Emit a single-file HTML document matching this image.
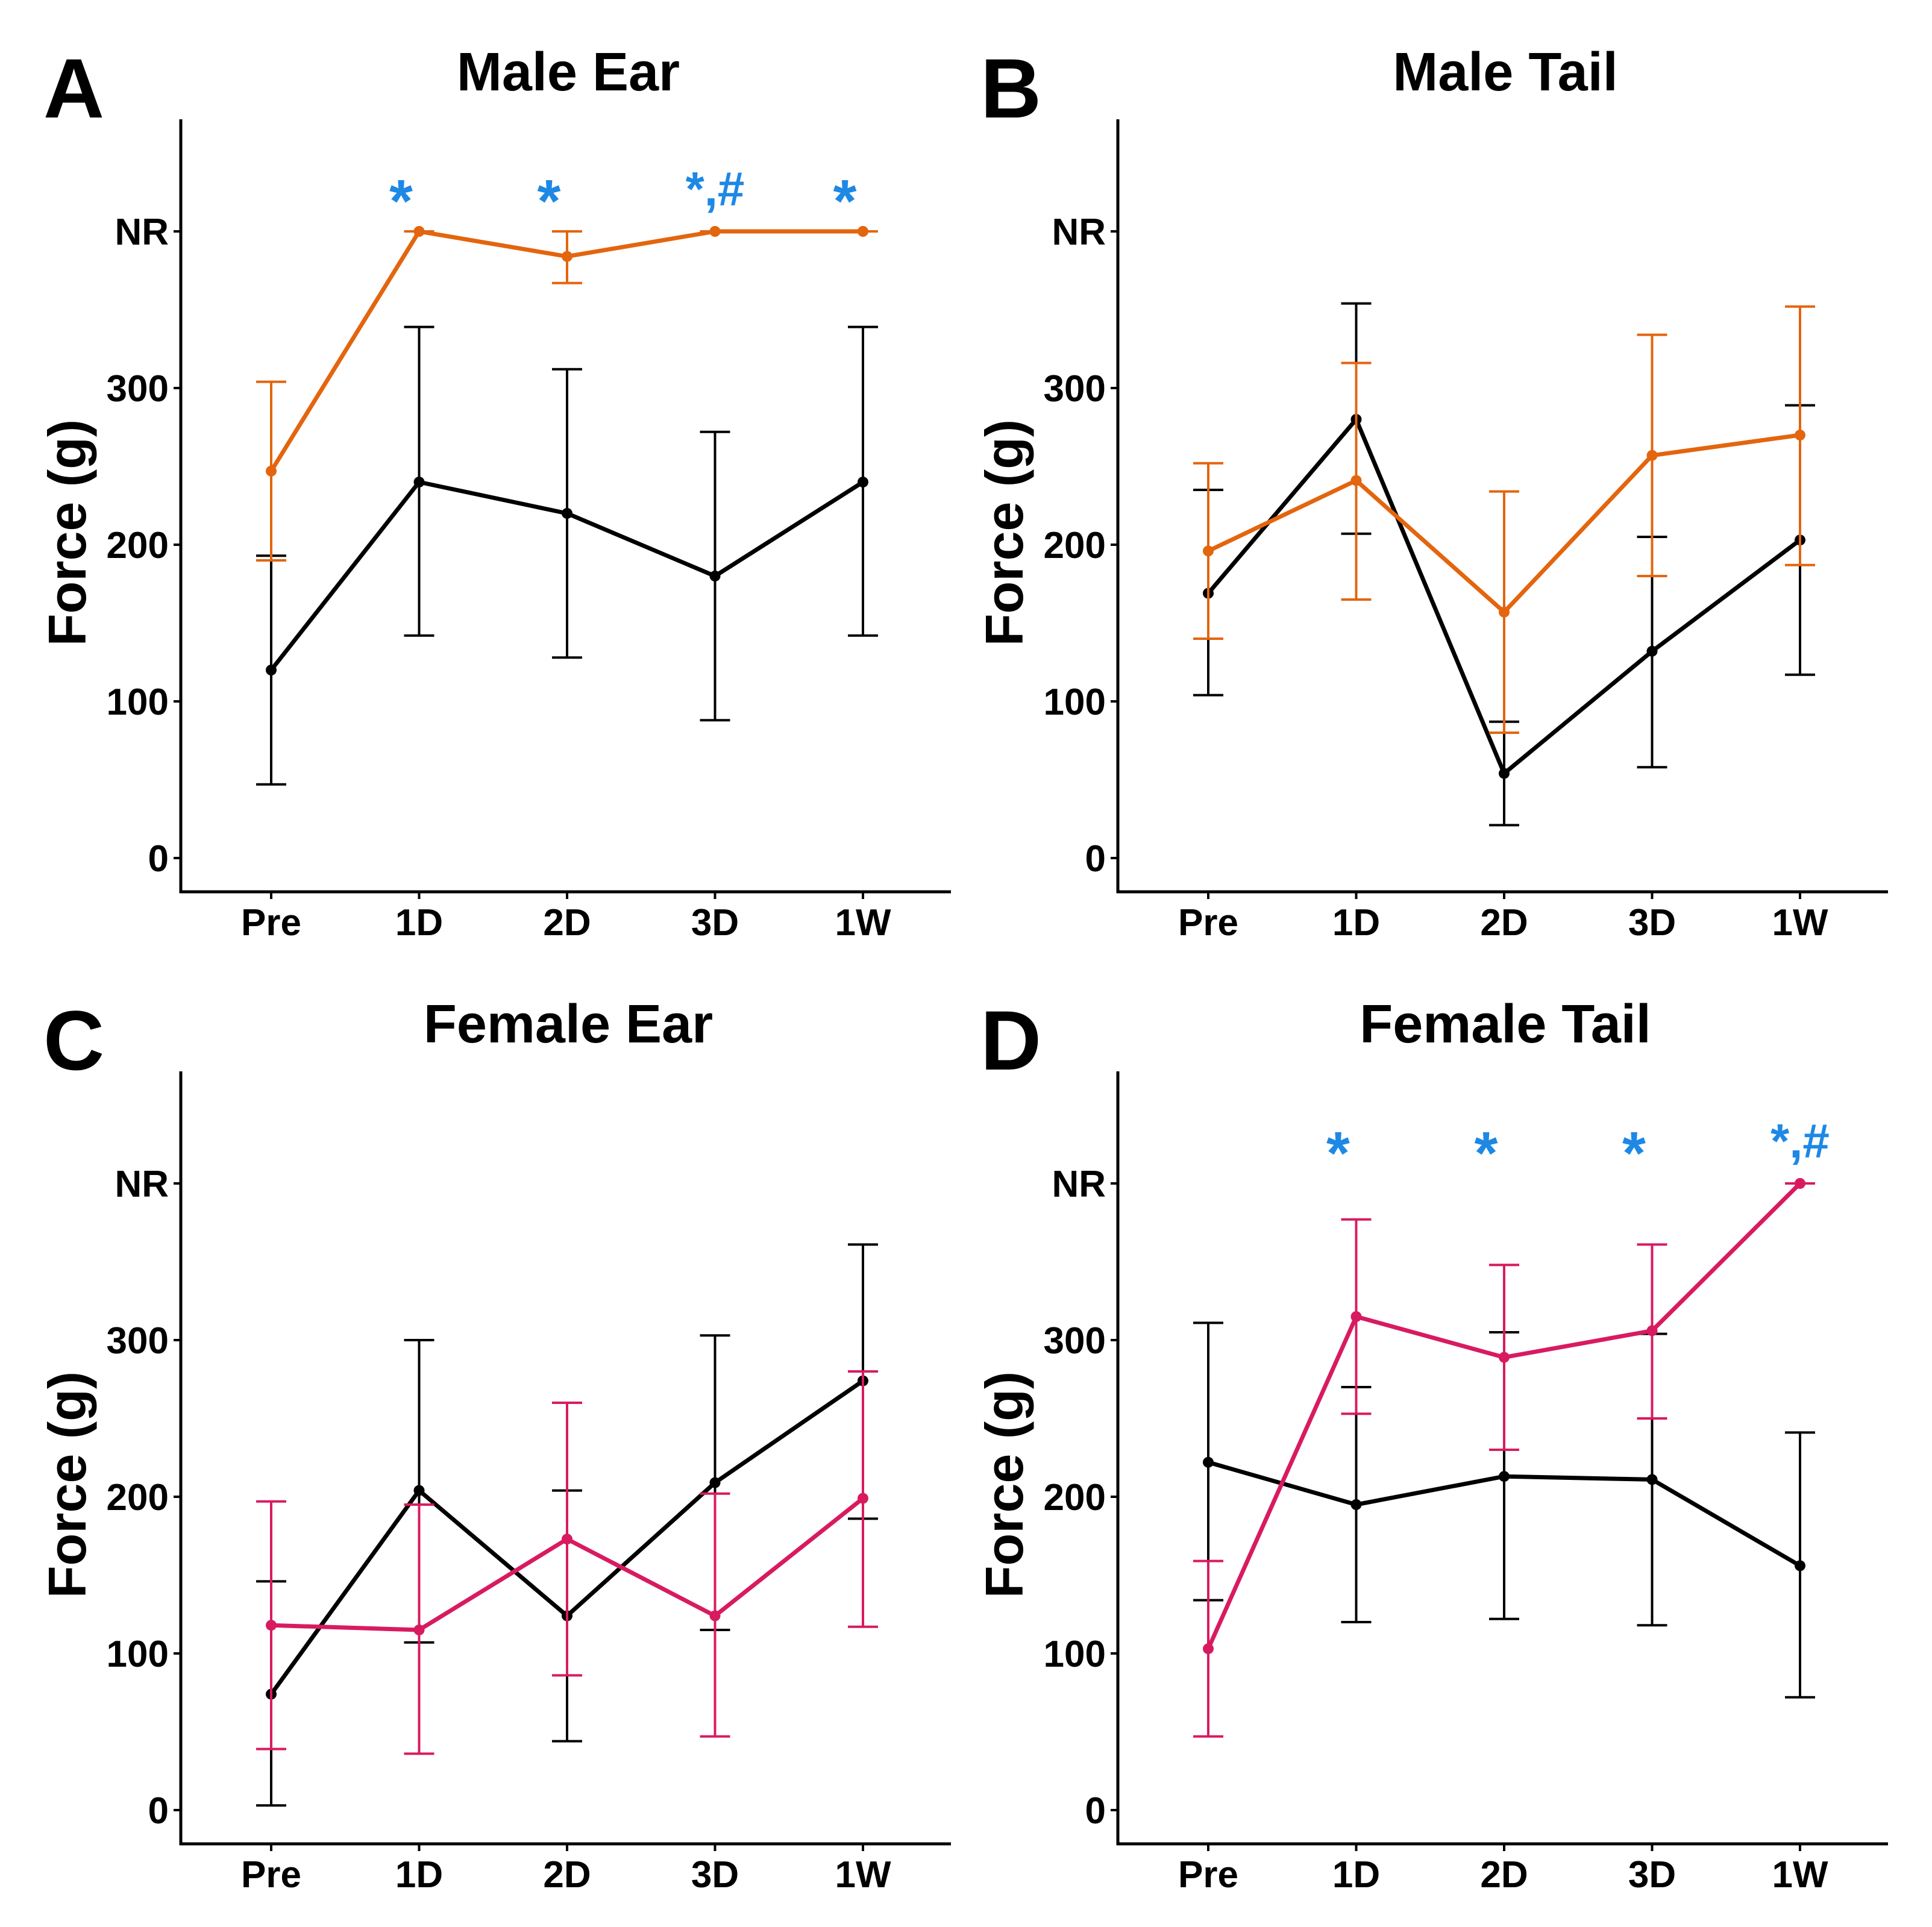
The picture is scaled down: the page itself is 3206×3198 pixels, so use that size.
<!DOCTYPE html>
<html><head><meta charset="utf-8"><style>
html,body{margin:0;padding:0;background:#fff;}
svg{display:block;font-family:"Liberation Sans",Arial,sans-serif;font-weight:bold;}
</style></head>
<body>
<svg id="fig" width="3206" height="3198" viewBox="0 0 3206 3198" xmlns="http://www.w3.org/2000/svg"></svg>
<script>
const categories = ["Pre","1D","2D","3D","1W"];
const yTickValues = [0,100,200,300,400];
const yTickLabels = ["0","100","200","300","NR"];

const titles = ["Male Ear","Male Tail","Female Ear","Female Tail"];
const letters = ["A","B","C","D"];

const aBlackMean = [120,240,220,180,240];
const aBlackLow  = [47,142,128,88,142];
const aBlackHigh = [193,339,312,272,339];
const aColMean = [247,400,384,400,400];
const aColLow  = [190,400,367,400,400];
const aColHigh = [304,400,400,400,400];

const bBlackMean = [169,280,54,132,203];
const bBlackLow  = [104,207,21,58,117];
const bBlackHigh = [235,354,87,205,289];
const bColMean = [196,241,157,257,270];
const bColLow  = [140,165,80,180,187];
const bColHigh = [252,316,234,334,352];

const cBlackMean = [74,204,124,209,274];
const cBlackLow  = [3,107,44,115,186];
const cBlackHigh = [146,300,204,303,361];
const cColMean = [118,115,173,124,199];
const cColLow  = [39,36,86,47,117];
const cColHigh = [197,195,260,202,280];

const dBlackMean = [222,195,213,211,156];
const dBlackLow  = [134,120,122,118,72];
const dBlackHigh = [311,270,305,304,241];
const dColMean = [103,315,289,306,400];
const dColLow  = [47,253,230,250,400];
const dColHigh = [159,377,348,361,400];

const aSig = ["","*","*","*,#","*"];
const bSig = ["","","","",""];
const cSig = ["","","","",""];
const dSig = ["","*","*","*","*,#"];

const panels = [
 {bm:aBlackMean,bl:aBlackLow,bh:aBlackHigh,cm:aColMean,cl:aColLow,ch:aColHigh,sig:aSig,col:"#e3650e"},
 {bm:bBlackMean,bl:bBlackLow,bh:bBlackHigh,cm:bColMean,cl:bColLow,ch:bColHigh,sig:bSig,col:"#e3650e"},
 {bm:cBlackMean,bl:cBlackLow,bh:cBlackHigh,cm:cColMean,cl:cColLow,ch:cColHigh,sig:cSig,col:"#d81b60"},
 {bm:dBlackMean,bl:dBlackLow,bh:dBlackHigh,cm:dColMean,cl:dColLow,ch:dColHigh,sig:dSig,col:"#d81b60"}
];

const NS="http://www.w3.org/2000/svg";
const svg=document.getElementById("fig");
function mk(tag,attrs,parent){const e=document.createElementNS(NS,tag);for(const k in attrs)e.setAttribute(k,attrs[k]);(parent||svg).appendChild(e);return e;}

panels.forEach((p,i)=>{
  const ox=(i%2)*1555, oy=Math.floor(i/2)*1580;
  const g=mk("g",{});
  
  
  const axL=300+ox, axR=1578+ox, axT=198+oy, axB=1480+oy;
  const y0=1424+oy, per=2.60;
  const yS=v=>y0-v*per;
  const xS=k=>450+ox+k*245.5;

  const lt=mk("text",{x:72+ox,y:195+oy,"font-size":140,fill:"#000"},g);lt.textContent=letters[i];
  
  
  const tt=mk("text",{x:943+ox,y:150+oy,"font-size":90,"text-anchor":"middle",fill:"#000"},g);tt.textContent=titles[i];
  
  
  const yt=mk("text",{x:0,y:0,"font-size":88,"text-anchor":"middle",fill:"#000",transform:`translate(${142+ox},${(axT+axB)/2+45}) rotate(-90)`},g);yt.textContent="Force (g)";
  
  

  mk("line",{x1:axL,y1:axT,x2:axL,y2:axB+2,stroke:"#000","stroke-width":5},g);
  mk("line",{x1:axL-2,y1:axB,x2:axR,y2:axB,stroke:"#000","stroke-width":5},g);

  yTickValues.forEach((v,k)=>{
    mk("line",{x1:axL-12,y1:yS(v),x2:axL,y2:yS(v),stroke:"#000","stroke-width":4},g);
    const t=mk("text",{x:axL-20,y:yS(v)+22,"font-size":62,"text-anchor":"end",fill:"#000"},g);t.textContent=yTickLabels[k];
    
    
  });
  categories.forEach((c,k)=>{
    mk("line",{x1:xS(k),y1:axB,x2:xS(k),y2:axB+12,stroke:"#000","stroke-width":4},g);
    const t=mk("text",{x:xS(k),y:axB+72,"font-size":62,"text-anchor":"middle",fill:"#000"},g);t.textContent=c;
    
    
  });

  function series(m,l,h,color,name){
    const sg=mk("g",{},g);
    
    
    m.forEach((v,k)=>{
      const x=xS(k);
      mk("line",{x1:x,y1:yS(l[k]),x2:x,y2:yS(h[k]),stroke:color,"stroke-width":4},sg);
      mk("line",{x1:x-25,y1:yS(l[k]),x2:x+25,y2:yS(l[k]),stroke:color,"stroke-width":4},sg);
      mk("line",{x1:x-25,y1:yS(h[k]),x2:x+25,y2:yS(h[k]),stroke:color,"stroke-width":4},sg);
    });
    mk("polyline",{points:m.map((v,k)=>xS(k)+","+yS(v)).join(" "),fill:"none",stroke:color,"stroke-width":7,"stroke-linejoin":"round"},sg);
    m.forEach((v,k)=>{mk("circle",{cx:xS(k),cy:yS(v),r:9,fill:color},sg);});
  }
  series(p.bm,p.bl,p.bh,"#000","control-series");
  series(p.cm,p.cl,p.ch,p.col,"treatment-series");

  p.sig.forEach((s,k)=>{
    if(!s)return;
    const multi=s.length>1;
    const t=mk("text",{x:xS(k)-(multi?0:30),y:yS(430)+(multi?35:62),"font-size":multi?80:100,"text-anchor":"middle",fill:"#1e88e5"},g);
    t.textContent=s;
    
    
  });
});
</script>
</body></html>
